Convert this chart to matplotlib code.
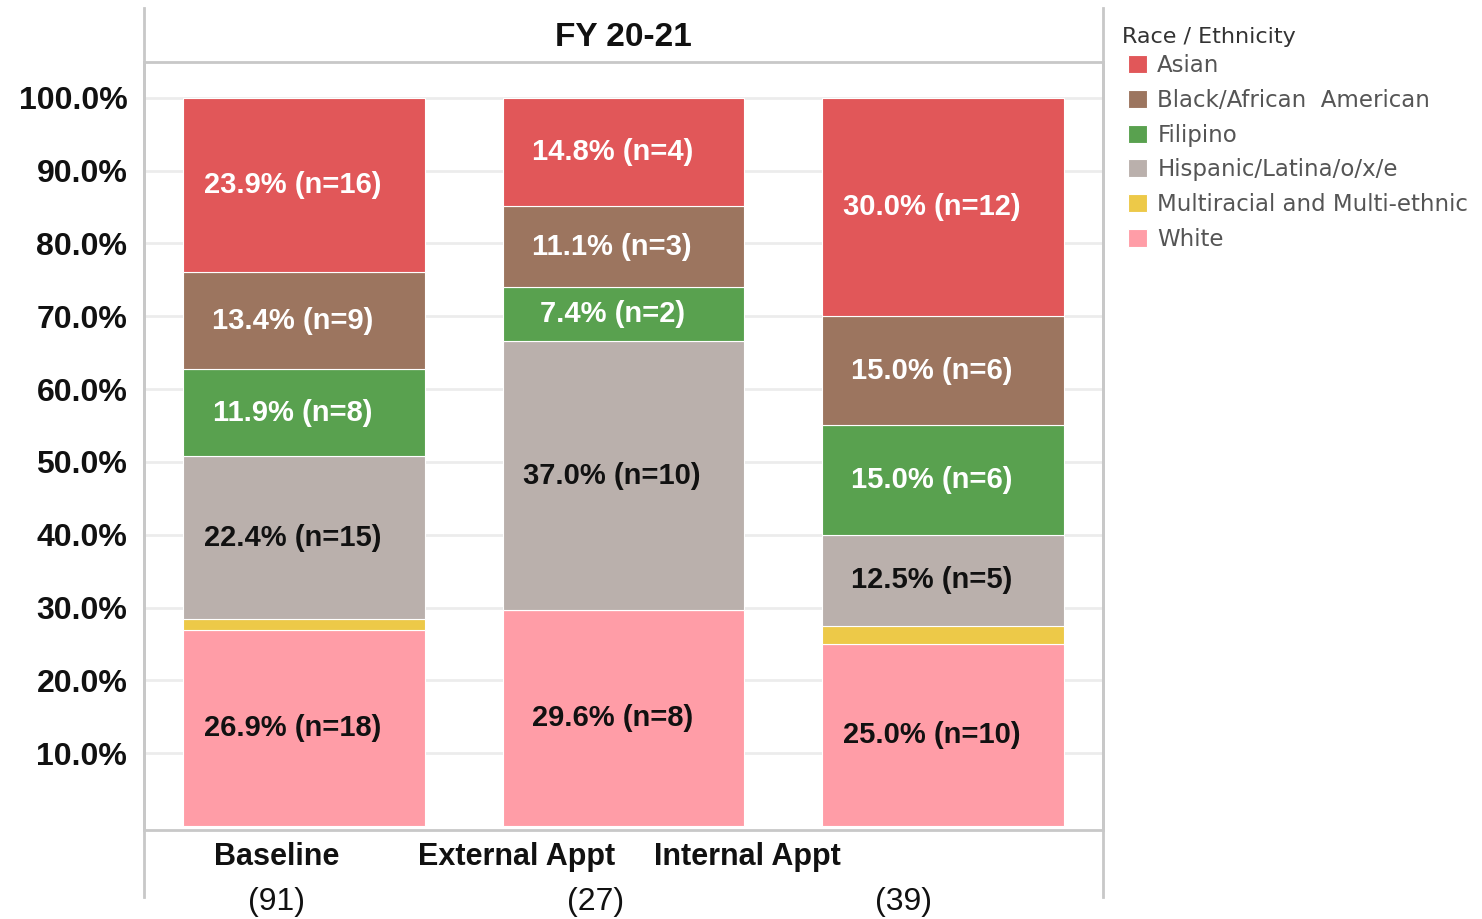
import matplotlib
matplotlib.use("Agg")
import matplotlib.pyplot as plt
from matplotlib.lines import Line2D
from matplotlib.transforms import blended_transform_factory
import numpy as np

plt.rcParams['font.family'] = ['Liberation Sans', 'DejaVu Sans']

categories = ["Baseline", "External Appt", "Internal Appt"]
totals = ["(91)", "(27)", "(39)"]
groups = ["White", "Multiracial and Multi-ethnic", "Hispanic/Latina/o/x/e",
          "Filipino", "Black/African  American", "Asian"]
pct_white = [26.9, 29.6, 25.0]
pct_multi = [1.5, 0.0, 2.5]
pct_hisp = [22.4, 37.0, 12.5]
pct_fil = [11.9, 7.4, 15.0]
pct_black = [13.4, 11.1, 15.0]
pct_asian = [23.9, 14.8, 30.0]
n_white = [18, 8, 10]
n_multi = [1, 0, 1]
n_hisp = [15, 10, 5]
n_fil = [8, 2, 6]
n_black = [9, 3, 6]
n_asian = [16, 4, 12]
yticks = [10, 20, 30, 40, 50, 60, 70, 80, 90, 100]

colors = ["#FF9DA7", "#EDC948", "#BAB0AC", "#59A14F", "#9C755F", "#E15759"]
label_colors = ["#111111", None, "#111111", "white", "white", "white"]

series = [pct_white, pct_multi, pct_hisp, pct_fil, pct_black, pct_asian]
counts = [n_white, n_multi, n_hisp, n_fil, n_black, n_asian]

W, H = 1482, 919
fig = plt.figure(figsize=(W / 100, H / 100), dpi=100)
L, R, T, B = 144, 1103, 62, 830
ax = fig.add_axes([L / W, 1 - B / H, (R - L) / W, (B - T) / H])

x = np.arange(len(categories))
bottom = np.zeros(len(categories))
handles = []
for vals, cnts, col, lc, name in zip(series, counts, colors, label_colors, groups):
    vals = np.array(vals)
    bars = ax.bar(x, vals, width=0.755, bottom=bottom, color=col,
                  edgecolor="white", linewidth=0.8, zorder=2, label=name)
    handles.append(bars)
    if lc is not None:
        for xi, v, b, c in zip(x, vals, bottom, cnts):
            if v > 0:
                ax.text(xi - 0.035, b + v / 2, f"{v:.1f}% (n={c})", ha="center",
                        va="center", color=lc, fontsize=21, fontweight="bold", zorder=3)
    bottom = bottom + vals

ax.set_xlim(-0.5, 2.5)
ax.set_ylim(-0.55, 104.9)
ax.set_yticks(yticks)
ax.set_yticklabels([f"{t:.1f}%" for t in yticks], fontsize=23, fontweight="bold", color="#111111")
ax.tick_params(axis="y", length=0, pad=12)
ax.set_xticks([])
ax.grid(axis="y", color="#ececec", linewidth=2, zorder=0)
ax.set_axisbelow(True)
for s in ["left", "right", "top", "bottom"]:
    ax.spines[s].set_color("#c8c8c8")
    ax.spines[s].set_linewidth(2)

# outer vertical lines spanning header and footer
for px in (L, R):
    fig.add_artist(Line2D([px / W, px / W], [1 - 8 / H, 1 - 897 / H],
                          color="#c8c8c8", linewidth=2))

fig.text((L + R) / 2 / W, 1 - 37 / H, "FY 20-21", ha="center", va="center",
         fontsize=24, fontweight="bold", color="#111111")

trans = blended_transform_factory(ax.transData, fig.transFigure)
name_x = [-0.084, 0.666, 1.3875]
tot_x = [-0.084, 0.9125, 1.875]
for cx, cat in zip(name_x, categories):
    ax.text(cx, 1 - 857 / H, cat, transform=trans, ha="center", va="center",
            fontsize=22, fontweight="bold", color="#111111", clip_on=False)
for tx, tot in zip(tot_x, totals):
    ax.text(tx, 1 - 902 / H, tot, transform=trans, ha="center", va="center",
            fontsize=23, color="#111111", clip_on=False)

fig.text(1122 / W, 1 - 37 / H, "Race / Ethnicity", ha="left", va="center",
         fontsize=16, color="#333333", family="DejaVu Sans")
leg = fig.legend(handles[::-1], groups[::-1],
                 loc="upper left", bbox_to_anchor=(1119 / W, 1 - 45 / H),
                 frameon=False, prop={"family": "DejaVu Sans", "size": 16.5},
                 handlelength=0.83, handleheight=0.83, handletextpad=0.44,
                 labelspacing=0.51, borderaxespad=0, alignment="left")
for t in leg.get_texts():
    t.set_color("#555555")

fig.savefig("out.png", dpi=100)
